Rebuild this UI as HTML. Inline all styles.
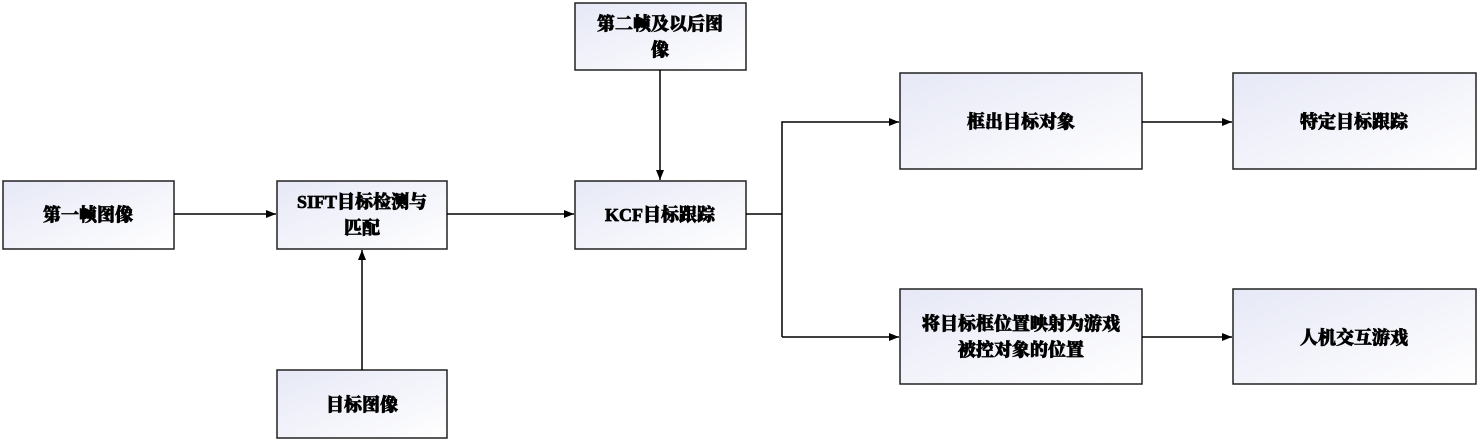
<!DOCTYPE html>
<html><head><meta charset="utf-8"><style>
html,body{margin:0;padding:0;background:#fff;}
svg{display:block;}
text{font-family:"Liberation Serif","Noto Serif CJK SC",serif;font-weight:900;font-size:18px;fill:#000;stroke:#000;stroke-width:0.7px;text-anchor:middle;}
</style></head><body>
<svg width="1478" height="441" viewBox="0 0 1478 441" xmlns="http://www.w3.org/2000/svg">
<defs>
<linearGradient id="g" x1="0" y1="0" x2="1" y2="1">
<stop offset="0" stop-color="#e6e8f6"/><stop offset="1" stop-color="#ffffff"/>
</linearGradient>
<marker id="a" markerWidth="10" markerHeight="8" refX="10" refY="4" orient="auto" markerUnits="userSpaceOnUse">
<path d="M0,0 L10,4 L0,8 z" fill="#000"/>
</marker>
</defs>
<g fill="url(#g)" stroke="#222" stroke-width="1.5">
<rect x="3" y="181" width="171" height="68"/>
<rect x="277" y="181" width="170" height="68"/>
<rect x="277" y="370" width="170" height="68"/>
<rect x="575" y="3" width="171" height="67"/>
<rect x="575" y="181" width="171" height="68"/>
<rect x="900" y="73" width="242" height="96"/>
<rect x="1233" y="73" width="243" height="96"/>
<rect x="900" y="289" width="242" height="95"/>
<rect x="1233" y="289" width="243" height="95"/>
</g>
<g stroke="#000" stroke-width="1.5" fill="none">
<line x1="174" y1="214" x2="276" y2="214" marker-end="url(#a)"/>
<line x1="447" y1="214" x2="574" y2="214" marker-end="url(#a)"/>
<line x1="362" y1="370" x2="362" y2="250" marker-end="url(#a)"/>
<line x1="660" y1="70" x2="660" y2="180" marker-end="url(#a)"/>
<polyline points="746,214 782,214"/>
<polyline points="782,337 782,122 899,122" marker-end="url(#a)"/>
<polyline points="782,337 899,337" marker-end="url(#a)"/>
<line x1="1142" y1="122" x2="1232" y2="122" marker-end="url(#a)"/>
<line x1="1142" y1="337" x2="1232" y2="337" marker-end="url(#a)"/>
</g>
<text x="88" y="221">第一帧图像</text>
<text x="362" y="208">SIFT目标检测与</text>
<text x="362" y="234">匹配</text>
<text x="362" y="411">目标图像</text>
<text x="660" y="30">第二帧及以后图</text>
<text x="660" y="56">像</text>
<text x="660" y="221">KCF目标跟踪</text>
<text x="1021" y="128">框出目标对象</text>
<text x="1354" y="128">特定目标跟踪</text>
<text x="1021" y="330">将目标框位置映射为游戏</text>
<text x="1021" y="356">被控对象的位置</text>
<text x="1354" y="344">人机交互游戏</text>
</svg>
</body></html>
